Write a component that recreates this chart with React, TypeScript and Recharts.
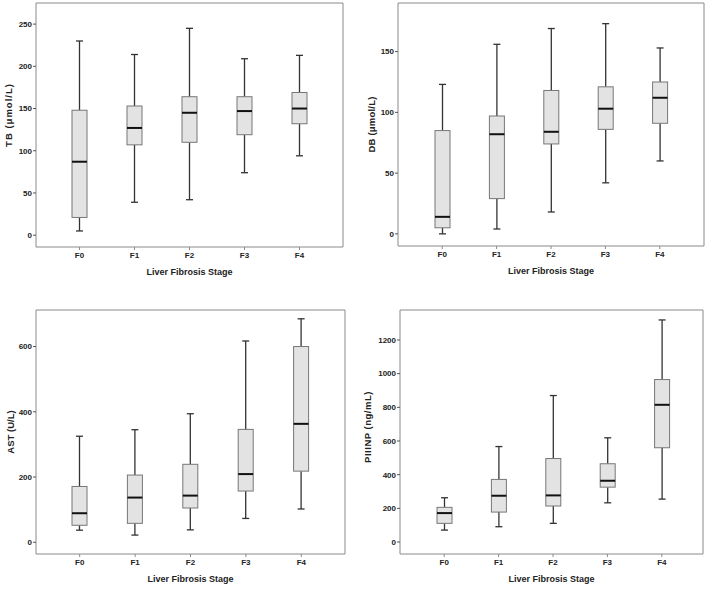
import React from 'react';
import { ComposedChart, Bar, XAxis, YAxis } from 'recharts';

const stages = ['F0', 'F1', 'F2', 'F3', 'F4'];

// TB (µmol/L)
const tbMin = [5, 39, 42, 74, 94];
const tbQ1 = [21, 107, 110, 119, 132];
const tbMedian = [87, 127, 145, 147, 150];
const tbQ3 = [148, 153, 164, 164, 169];
const tbMax = [230, 214, 245, 209, 213];

// DB (µmol/L)
const dbMin = [0, 4, 18, 42, 60];
const dbQ1 = [5, 29, 74, 86, 91];
const dbMedian = [14, 82, 84, 103, 112];
const dbQ3 = [85, 97, 118, 121, 125];
const dbMax = [123, 156, 169, 173, 153];

// AST (U/L)
const astMin = [37, 22, 38, 73, 102];
const astQ1 = [52, 58, 105, 157, 218];
const astMedian = [89, 137, 143, 209, 363];
const astQ3 = [171, 206, 239, 346, 600];
const astMax = [325, 345, 394, 617, 685];

// PIIINP (ng/mL)
const pMin = [71, 91, 111, 233, 255];
const pQ1 = [111, 178, 214, 326, 560];
const pMedian = [172, 275, 277, 364, 815];
const pQ3 = [206, 372, 496, 465, 965];
const pMax = [263, 567, 870, 619, 1319];

const tbTicks = [0, 50, 100, 150, 200, 250];
const dbTicks = [0, 50, 100, 150];
const astTicks = [0, 200, 400, 600];
const pTicks = [0, 200, 400, 600, 800, 1000, 1200];

const xTitle = 'Liver Fibrosis Stage';

const buildRows = (
  mins: number[],
  q1s: number[],
  meds: number[],
  q3s: number[],
  maxs: number[]
) =>
  stages.map((stage, i) => ({
    stage,
    min: mins[i],
    q1: q1s[i],
    median: meds[i],
    q3: q3s[i],
    max: maxs[i],
    box: [q1s[i], q3s[i]],
  }));

const BoxShape = (props: any) => {
  const { x, y, width, height, payload } = props;
  if (x == null || y == null || !payload) return null;
  const top = Math.min(y, y + height);
  const bottom = Math.max(y, y + height);
  const span = payload.q3 - payload.q1;
  const k = span > 0 ? (bottom - top) / span : 0;
  const yOf = (v: number) => bottom - (v - payload.q1) * k;
  const cx = x + width / 2;
  const cap = 3.5;
  const wc = '#333';
  return (
    <g>
      <line x1={cx} x2={cx} y1={yOf(payload.max)} y2={top} stroke={wc} strokeWidth={1.3} />
      <line x1={cx} x2={cx} y1={bottom} y2={yOf(payload.min)} stroke={wc} strokeWidth={1.3} />
      <line x1={cx - cap} x2={cx + cap} y1={yOf(payload.max)} y2={yOf(payload.max)} stroke={wc} strokeWidth={1.3} />
      <line x1={cx - cap} x2={cx + cap} y1={yOf(payload.min)} y2={yOf(payload.min)} stroke={wc} strokeWidth={1.3} />
      <rect x={x} y={top} width={width} height={bottom - top} fill="#e3e3e3" stroke="#777" strokeWidth={1} />
      <line x1={x} x2={x + width} y1={yOf(payload.median)} y2={yOf(payload.median)} stroke="#111" strokeWidth={2} />
    </g>
  );
};

const FONT = 'Liberation Sans, Arial, sans-serif';
const AXIS = '#8a8a8a';

type PanelProps = {
  left: number;
  top: number;
  width: number;
  height: number;
  data: any[];
  domain: [number, number];
  ticks: number[];
  yTitle: string;
  yTitleX: number;
  yTitleShift: number;
  yTitleSpacing: number;
  yWidth: number;
  margin: { top: number; right: number; left: number; bottom: number };
  padding: { left: number; right: number };
};

const makeYTitle = (text: string, cxOff: number, shift: number, spacing: number) => (props: any) => {
  const vb = props.viewBox || {};
  const cx = (vb.x || 0) + cxOff;
  const cy = (vb.y || 0) + (vb.height || 0) / 2 + shift;
  return (
    <text
      x={cx}
      y={cy}
      transform={`rotate(-90, ${cx}, ${cy})`}
      textAnchor="middle"
      dominantBaseline="central"
      fontSize={9.5}
      fontWeight="bold"
      fill="#222"
      fontFamily={FONT}
      letterSpacing={spacing}
    >
      {text}
    </text>
  );
};

const Panel = (p: PanelProps) => (
  <div style={{ position: 'absolute', left: p.left, top: p.top }}>
    <ComposedChart width={p.width} height={p.height} data={p.data} margin={p.margin}>
      <XAxis
        dataKey="stage"
        type="category"
        padding={p.padding}
        stroke={AXIS}
        tickSize={3}
        tickMargin={2}
        height={30}
        tick={{ fontSize: 8, fill: '#222', fontFamily: FONT, fontWeight: 'bold' }}
        tickLine={{ stroke: AXIS }}
        label={{
          value: xTitle,
          position: 'insideBottom',
          offset: 2,
          style: { fontSize: 9, fontWeight: 'bold', fill: '#222', fontFamily: FONT },
        }}
      />
      <XAxis
        xAxisId="frameTop"
        dataKey="stage"
        orientation="top"
        height={1}
        tick={false}
        tickLine={false}
        stroke={AXIS}
        padding={p.padding}
      />
      <YAxis
        type="number"
        domain={p.domain}
        ticks={p.ticks}
        allowDataOverflow
        width={p.yWidth}
        stroke={AXIS}
        tickSize={3}
        tickMargin={1}
        tick={{ fontSize: 8, fill: '#222', fontFamily: FONT, fontWeight: 'bold' }}
        tickLine={{ stroke: '#555' }}
        label={{ content: makeYTitle(p.yTitle, p.yTitleX, p.yTitleShift, p.yTitleSpacing) } as any}
      />
      <YAxis
        yAxisId="frameRight"
        orientation="right"
        type="number"
        domain={[0, 1]}
        ticks={[0, 1]}
        width={1}
        tick={false}
        tickLine={false}
        stroke={AXIS}
      />
      <Bar dataKey="box" barSize={15} shape={<BoxShape />} isAnimationActive={false} />
    </ComposedChart>
  </div>
);

export default function App() {
  const tbData = buildRows(tbMin, tbQ1, tbMedian, tbQ3, tbMax);
  const dbData = buildRows(dbMin, dbQ1, dbMedian, dbQ3, dbMax);
  const astData = buildRows(astMin, astQ1, astMedian, astQ3, astMax);
  const pData = buildRows(pMin, pQ1, pMedian, pQ3, pMax);
  return (
    <div
      style={{
        position: 'absolute',
        left: 0,
        top: 0,
        width: 708,
        height: 589,
        background: '#fff',
        fontFamily: FONT,
      }}
    >
      <Panel
        left={0}
        top={0}
        width={354}
        height={290}
        data={tbData}
        domain={[-14, 275]}
        ticks={tbTicks}
        yTitle="TB (μmol/L)"
        yTitleX={8}
        yTitleShift={-10}
        yTitleSpacing={1}
        yWidth={36}
        margin={{ top: 2, right: 10, left: 0, bottom: 13 }}
        padding={{ left: 16, right: 16 }}
      />
      <Panel
        left={354}
        top={0}
        width={354}
        height={290}
        data={dbData}
        domain={[-10, 190]}
        ticks={dbTicks}
        yTitle="DB (μmol/L)"
        yTitleX={17}
        yTitleShift={0}
        yTitleSpacing={0.2}
        yWidth={44}
        margin={{ top: 2, right: 3, left: 0, bottom: 14 }}
        padding={{ left: 17, right: 17 }}
      />
      <Panel
        left={0}
        top={295}
        width={354}
        height={294}
        data={astData}
        domain={[-36, 712]}
        ticks={astTicks}
        yTitle="AST (U/L)"
        yTitleX={10}
        yTitleShift={0}
        yTitleSpacing={0}
        yWidth={36}
        margin={{ top: 14, right: 8, left: 0, bottom: 5 }}
        padding={{ left: 16, right: 16 }}
      />
      <Panel
        left={354}
        top={295}
        width={354}
        height={294}
        data={pData}
        domain={[-71, 1378]}
        ticks={pTicks}
        yTitle="PIIINP (ng/mL)"
        yTitleX={13}
        yTitleShift={-5}
        yTitleSpacing={0.5}
        yWidth={46}
        margin={{ top: 14, right: 4, left: 0, bottom: 5 }}
        padding={{ left: 17, right: 14 }}
      />
    </div>
  );
}
